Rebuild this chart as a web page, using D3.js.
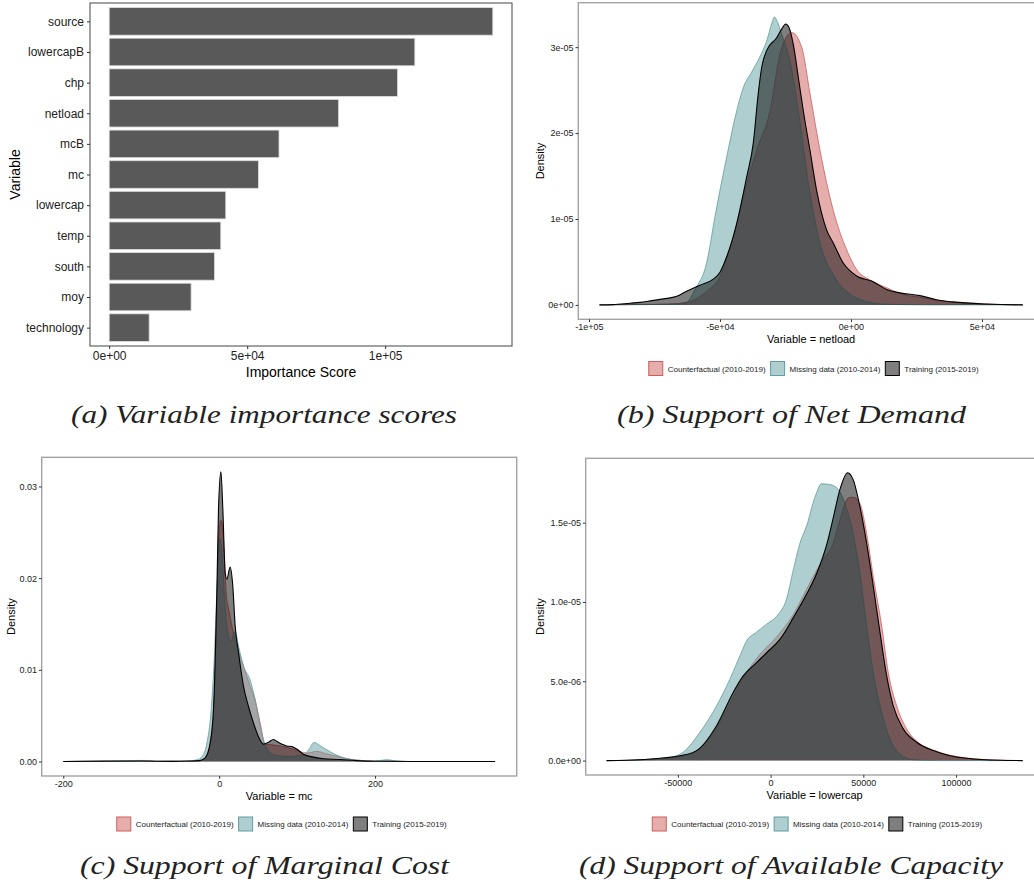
<!DOCTYPE html>
<html>
<head>
<meta charset="utf-8">
<script src="https://cdn.jsdelivr.net/npm/d3@7"></script>
<style>
  body { margin: 0; background: #fff; }
  svg { display: block; }
  text { font-family: "Liberation Sans", Arial, sans-serif; }
  text.caption { font-family: "Liberation Serif", "Times New Roman", Times, "DejaVu Serif", serif; font-style: italic; }
</style>
</head>
<body>
<svg id="fig" width="1034" height="890"></svg>
<script>
// ---------- (a) variable importance ----------
const impVariables = ["source", "lowercapB", "chp", "netload", "mcB", "mc",
                      "lowercap", "temp", "south", "moy", "technology"];
const impScores = [139000, 110750, 104500, 83130, 61530, 54070,
                   42240, 40430, 38140, 29680, 14480];
const impTicks = [0, 50000, 100000];
const impTickLabels = ["0e+00", "5e+04", "1e+05"];

// ---------- groups shared by the density panels ----------
const groupNames = ["Counterfactual (2010-2019)", "Missing data (2010-2014)", "Training (2015-2019)"];
const groupColors = ["#CD5C5C", "#5F9EA0", "#000000"];

// ---------- (b) netload densities: [value, density] ----------
const netloadCounterfactual = [
  [-96000, 0], [-80000, 0.005e-5], [-70000, 0.01e-5], [-62700, 0.03e-5], [-55000, 0.16e-5],
  [-50000, 0.33e-5], [-44900, 0.79e-5], [-41100, 1.26e-5], [-36000, 1.80e-5], [-30900, 2.26e-5],
  [-27100, 2.92e-5], [-25000, 3.10e-5], [-22630, 3.17e-5], [-18820, 3.00e-5], [-15650, 2.46e-5],
  [-11830, 1.80e-5], [-6760, 1.10e-5], [-1640, 0.64e-5], [2180, 0.41e-5], [7250, 0.29e-5],
  [13600, 0.20e-5], [20000, 0.12e-5], [26300, 0.09e-5], [32700, 0.05e-5], [39000, 0.03e-5],
  [51800, 0.01e-5], [65600, 0]
];
const netloadMissing = [
  [-96000, 0], [-75000, 0.005e-5], [-66000, 0.01e-5], [-62700, 0.03e-5], [-59540, 0.18e-5],
  [-55080, 0.49e-5], [-51900, 1.03e-5], [-47450, 1.72e-5], [-43600, 2.26e-5], [-41100, 2.53e-5],
  [-37900, 2.71e-5], [-34730, 2.89e-5], [-32200, 3.07e-5], [-30290, 3.27e-5], [-29270, 3.35e-5],
  [-27750, 3.27e-5], [-26460, 3.15e-5], [-23280, 2.84e-5], [-20100, 2.26e-5], [-15650, 1.30e-5],
  [-11830, 0.72e-5], [-6760, 0.35e-5], [880, 0.10e-5], [6000, 0.04e-5], [12000, 0.01e-5],
  [30000, 0], [65600, 0]
];
const netloadTraining = [
  [-96000, 0], [-90700, 0.003e-5], [-84300, 0.02e-5], [-80500, 0.03e-5], [-76000, 0.05e-5],
  [-71600, 0.07e-5], [-66500, 0.10e-5], [-62700, 0.16e-5], [-57600, 0.23e-5], [-52550, 0.30e-5],
  [-50000, 0.38e-5], [-47450, 0.56e-5], [-43600, 0.95e-5], [-39800, 1.49e-5], [-37300, 1.88e-5],
  [-35400, 2.46e-5], [-34100, 2.76e-5], [-32200, 2.96e-5], [-28370, 3.11e-5], [-26460, 3.21e-5],
  [-24940, 3.27e-5], [-23660, 3.23e-5], [-22000, 3.03e-5], [-20100, 2.65e-5], [-18200, 2.26e-5],
  [-15650, 1.80e-5], [-13100, 1.33e-5], [-9270, 0.87e-5], [-6760, 0.72e-5], [-3000, 0.49e-5],
  [2000, 0.34e-5], [8500, 0.27e-5], [13600, 0.18e-5], [18700, 0.14e-5], [26300, 0.108e-5],
  [32700, 0.06e-5], [39000, 0.035e-5], [51800, 0.01e-5], [65600, 0]
];
const netloadXTicks = [-100000, -50000, 0, 50000];
const netloadXLabels = ["-1e+05", "-5e+04", "0e+00", "5e+04"];
const netloadYTicks = [0, 1e-5, 2e-5, 3e-5];
const netloadYLabels = ["0e+00", "1e-05", "2e-05", "3e-05"];

// ---------- (c) marginal cost densities ----------
const mcCounterfactual = [
  [-200, 0], [-95, 0.0001], [-80, 0.00003], [-40, 0.00003], [-25, 0.0001], [-18, 0.0004],
  [-11.5, 0.0023], [-6.5, 0.007], [-3, 0.0166], [-0.9, 0.0239], [2.2, 0.0263], [5.5, 0.0243],
  [9, 0.0184], [13.2, 0.0162], [18.3, 0.014], [22.7, 0.0126], [31.2, 0.0104], [39.7, 0.0082],
  [46.2, 0.0067], [52.6, 0.0042], [59, 0.0019], [69.6, 0.0018], [82.4, 0.00164], [95, 0.00136],
  [112, 0.00092], [125, 0.0011], [138, 0.00084], [155, 0.00048], [172, 0.00019], [200, 0.00005],
  [215, 0.0001], [240, 0], [354, 0]
];
const mcMissing = [
  [-200, 0], [-95, 0.00012], [-80, 0.00003], [-40, 0.00005], [-28, 0.0002], [-22, 0.00055],
  [-15.8, 0.002], [-10.6, 0.0053], [-6.4, 0.0111], [-3, 0.0184], [0.4, 0.0243], [3.5, 0.0228],
  [7.7, 0.0166], [12, 0.0137], [15, 0.0131], [20.5, 0.0142], [24.8, 0.0126], [31.2, 0.0104],
  [39.7, 0.0089], [46.2, 0.0067], [52.6, 0.0038], [59, 0.0018], [69.6, 0.00073], [91, 0.00055],
  [108, 0.00073], [115, 0.0013], [121.8, 0.00208], [130, 0.0017], [138, 0.00128], [155, 0.00055],
  [172, 0.00019], [200, 0.00005], [215, 0.0002], [228, 0.00005], [240, 0], [354, 0]
];
const mcTraining = [
  [-200, 0], [-100, 0.00005], [-60, 0.00002], [-40, 0.00005], [-25, 0.0001], [-18, 0.0004],
  [-11.5, 0.002], [-7.3, 0.0057], [-5.1, 0.0111], [-3, 0.0184], [-0.9, 0.0275], [2.2, 0.0316],
  [4.7, 0.0275], [7.7, 0.0206], [9.8, 0.0199], [14.1, 0.0212], [17.5, 0.0191], [20.5, 0.0148],
  [24.8, 0.0119], [31.2, 0.0082], [37.6, 0.006], [44, 0.0042], [50.4, 0.0027], [56.8, 0.0019],
  [63.2, 0.0021], [69.6, 0.0024], [74, 0.0022], [80, 0.0019], [86.8, 0.0017], [93.2, 0.00164],
  [99.6, 0.00136], [108, 0.0008], [121, 0.00048], [134, 0.0003], [155, 0.00022], [176, 0.0001],
  [200, 0.00003], [250, 0], [354, 0]
];
const mcXTicks = [-200, 0, 200];
const mcXLabels = ["-200", "0", "200"];
const mcYTicks = [0, 0.01, 0.02, 0.03];
const mcYLabels = ["0.00", "0.01", "0.02", "0.03"];

// ---------- (d) available capacity densities ----------
const lowercapCounterfactual = [
  [-88460, 0], [-70000, 0.005e-5], [-59700, 0.012e-5], [-48900, 0.025e-5], [-39900, 0.06e-5],
  [-30960, 0.17e-5], [-21950, 0.36e-5], [-14780, 0.52e-5], [-5770, 0.67e-5], [3240, 0.78e-5],
  [12200, 0.92e-5], [19400, 1.08e-5], [24820, 1.20e-5], [28370, 1.27e-5], [33760, 1.37e-5],
  [37380, 1.52e-5], [41860, 1.655e-5], [44550, 1.66e-5], [48170, 1.62e-5], [51780, 1.43e-5],
  [55340, 1.16e-5], [59870, 0.85e-5], [63430, 0.555e-5], [67960, 0.345e-5], [73350, 0.20e-5],
  [80000, 0.11e-5], [88000, 0.065e-5], [97000, 0.033e-5], [106000, 0.016e-5], [124000, 0.003e-5],
  [135900, 0]
];
const lowercapMissing = [
  [-88460, 0], [-65100, 0.005e-5], [-56100, 0.015e-5], [-47140, 0.053e-5], [-38140, 0.178e-5],
  [-29130, 0.345e-5], [-21950, 0.513e-5], [-16560, 0.66e-5], [-12950, 0.754e-5], [-7550, 0.81e-5],
  [-2160, 0.86e-5], [3240, 0.91e-5], [8630, 1.02e-5], [12200, 1.20e-5], [15800, 1.37e-5],
  [19420, 1.48e-5], [23900, 1.66e-5], [27500, 1.745e-5], [32000, 1.74e-5], [36460, 1.71e-5],
  [40070, 1.62e-5], [44550, 1.43e-5], [48170, 1.18e-5], [51780, 0.85e-5], [55340, 0.555e-5],
  [59870, 0.304e-5], [64350, 0.136e-5], [69740, 0.042e-5], [76900, 0.005e-5], [90000, 0],
  [135900, 0]
];
const lowercapTraining = [
  [-88460, 0], [-77000, 0.002e-5], [-59700, 0.015e-5], [-48900, 0.031e-5], [-39900, 0.063e-5],
  [-29130, 0.22e-5], [-20170, 0.43e-5], [-14780, 0.534e-5], [-7550, 0.618e-5], [-2160, 0.68e-5],
  [5020, 0.764e-5], [12200, 0.90e-5], [19420, 1.05e-5], [24820, 1.18e-5], [30200, 1.36e-5],
  [33760, 1.53e-5], [37380, 1.71e-5], [41530, 1.815e-5], [44550, 1.77e-5], [48170, 1.60e-5],
  [51780, 1.37e-5], [55340, 1.10e-5], [58950, 0.81e-5], [62570, 0.534e-5], [66130, 0.345e-5],
  [71520, 0.20e-5], [78750, 0.116e-5], [87700, 0.063e-5], [96700, 0.031e-5], [105700, 0.015e-5],
  [123700, 0.002e-5], [135900, 0]
];
const lowercapXTicks = [-50000, 0, 50000, 100000];
const lowercapXLabels = ["-50000", "0", "50000", "100000"];
const lowercapYTicks = [0, 5e-6, 1e-5, 1.5e-5];
const lowercapYLabels = ["0.0e+00", "5.0e-06", "1.0e-05", "1.5e-05"];

// ---------- captions ----------
const captions = [
  { text: "(a) Variable importance scores", x0: 71, x1: 457, y: 423 },
  { text: "(b) Support of Net Demand", x0: 617, x1: 966, y: 423 },
  { text: "(c) Support of Marginal Cost", x0: 80, x1: 449, y: 874 },
  { text: "(d) Support of Available Capacity", x0: 579, x1: 1003, y: 874 }
];

const svg = d3.select("#fig");
svg.append("rect").attr("width", 1034).attr("height", 890).attr("fill", "#fff");

const TICK_COLOR = "#333";

function styleAxis(g, fontSize) {
  g.select(".domain").remove();
  g.selectAll(".tick line").attr("stroke", TICK_COLOR).attr("stroke-width", 1);
  g.selectAll(".tick text").attr("fill", "#222").attr("font-size", fontSize);
}

// ---------- panel (a): horizontal bar chart ----------
(function importancePanel() {
  const P = { left: 90, right: 512, top: 3, bottom: 346 };
  const maxV = d3.max(impScores);
  const x = d3.scaleLinear().domain([-0.05 * maxV, 1.05 * maxV]).range([P.left, P.right]);
  const y = d3.scalePoint().domain(impVariables).range([P.top, P.bottom]).padding(0.6);
  const bh = y.step() * 0.9;
  const g = svg.append("g");

  g.selectAll("rect.bar").data(impVariables).join("rect")
    .attr("class", "bar")
    .attr("x", x(0))
    .attr("y", d => y(d) - bh / 2)
    .attr("width", (d, i) => x(impScores[i]) - x(0))
    .attr("height", bh)
    .attr("fill", "#595959")
    .attr("stroke", "#dcdcdc")
    .attr("stroke-width", 0.8);

  g.append("rect")
    .attr("x", P.left).attr("y", P.top)
    .attr("width", P.right - P.left).attr("height", P.bottom - P.top)
    .attr("fill", "none").attr("stroke", "#555").attr("stroke-width", 1.1);

  const ax = g.append("g").attr("transform", `translate(0,${P.bottom})`)
    .call(d3.axisBottom(x).tickValues(impTicks).tickFormat((d, i) => impTickLabels[i])
      .tickSize(3).tickPadding(2.5));
  styleAxis(ax, 12);

  const ay = g.append("g").attr("transform", `translate(${P.left},0)`)
    .call(d3.axisLeft(y).tickSize(3).tickPadding(3));
  styleAxis(ay, 12);

  g.append("text").attr("x", (P.left + P.right) / 2).attr("y", 377)
    .attr("text-anchor", "middle").attr("font-size", 14).attr("fill", "#000")
    .text("Importance Score");
  g.append("text").attr("transform", `translate(20,${(P.top + P.bottom) / 2}) rotate(-90)`)
    .attr("text-anchor", "middle").attr("font-size", 14).attr("fill", "#000")
    .text("Variable");
})();

// ---------- density panels ----------
let clipId = 0;
function densityPanel(cfg) {
  const g = svg.append("g");
  const allPts = cfg.series.flat();
  const xExt = d3.extent(allPts, d => d[0]);
  const xPad = (xExt[1] - xExt[0]) * 0.05;
  const yMax = d3.max(allPts, d => d[1]);
  const x = d3.scaleLinear().domain([xExt[0] - xPad, xExt[1] + xPad]).range([cfg.left, cfg.right]);
  const y = d3.scaleLinear().domain([-0.05 * yMax, 1.05 * yMax]).range([cfg.bottom, cfg.top]);

  const id = "clip" + (clipId++);
  g.append("clipPath").attr("id", id).append("rect")
    .attr("x", cfg.left).attr("y", cfg.top)
    .attr("width", cfg.right - cfg.left).attr("height", cfg.bottom - cfg.top);
  const plot = g.append("g").attr("clip-path", `url(#${id})`);

  const area = d3.area().x(d => x(d[0])).y0(y(0)).y1(d => y(d[1])).curve(d3.curveMonotoneX);
  const line = d3.line().x(d => x(d[0])).y(d => y(d[1])).curve(d3.curveMonotoneX);

  cfg.series.forEach((vals, i) => {
    plot.append("path").attr("d", area(vals))
      .attr("fill", groupColors[i]).attr("fill-opacity", 0.5);
    plot.append("path").attr("d", line(vals))
      .attr("fill", "none").attr("stroke", groupColors[i])
      .attr("stroke-width", i === 2 ? 1.1 : 0.8).attr("stroke-linejoin", "round");
  });

  g.append("rect")
    .attr("x", cfg.left).attr("y", cfg.top)
    .attr("width", cfg.right - cfg.left).attr("height", cfg.bottom - cfg.top)
    .attr("fill", "none").attr("stroke", "#a3a3a3").attr("stroke-width", 1.4);

  const ax = g.append("g").attr("transform", `translate(0,${cfg.bottom})`)
    .call(d3.axisBottom(x).tickValues(cfg.xTicks).tickFormat((d, i) => cfg.xLabels[i])
      .tickSize(2.75).tickPadding(2));
  styleAxis(ax, 9);
  const ay = g.append("g").attr("transform", `translate(${cfg.left},0)`)
    .call(d3.axisLeft(y).tickValues(cfg.yTicks).tickFormat((d, i) => cfg.yLabels[i])
      .tickSize(2.75).tickPadding(2));
  styleAxis(ay, 9);

  const midX = (cfg.left + cfg.right) / 2;
  g.append("text").attr("x", midX).attr("y", cfg.bottom + 24)
    .attr("text-anchor", "middle").attr("font-size", 11).attr("fill", "#000")
    .text(cfg.xTitle);
  g.append("text").attr("transform", `translate(${cfg.densityX},${(cfg.top + cfg.bottom) / 2}) rotate(-90)`)
    .attr("text-anchor", "middle").attr("font-size", 11).attr("fill", "#000")
    .text("Density");

  // legend row
  const leg = g.append("g");
  const key = 15, gapIn = 4.5, gapOut = 4.5;
  let cur = 0;
  groupNames.forEach((name, i) => {
    leg.append("rect").attr("x", cur + 0.5).attr("y", -key / 2 + 0.5)
      .attr("width", key - 1).attr("height", key - 1)
      .attr("fill", groupColors[i]).attr("fill-opacity", 0.5)
      .attr("stroke", groupColors[i]).attr("stroke-width", 1);
    const t = leg.append("text").attr("x", cur + key + gapIn).attr("y", 3)
      .attr("font-size", 8).attr("fill", "#222").text(name);
    cur += key + gapIn + t.node().getComputedTextLength() + gapOut;
  });
  const legW = cur - gapOut;
  leg.attr("transform", `translate(${cfg.legendCenter - legW / 2},${cfg.legendY})`);
}

densityPanel({
  left: 578.3, right: 1044, top: 2.7, bottom: 319.3,
  series: [netloadCounterfactual, netloadMissing, netloadTraining],
  xTicks: netloadXTicks, xLabels: netloadXLabels,
  yTicks: netloadYTicks, yLabels: netloadYLabels,
  xTitle: "Variable = netload", densityX: 544,
  legendCenter: 813.5, legendY: 368.5
});

densityPanel({
  left: 41.7, right: 516.7, top: 457.3, bottom: 776,
  series: [mcCounterfactual, mcMissing, mcTraining],
  xTicks: mcXTicks, xLabels: mcXLabels,
  yTicks: mcYTicks, yLabels: mcYLabels,
  xTitle: "Variable = mc", densityX: 15,
  legendCenter: 281.5, legendY: 824
});

densityPanel({
  left: 585.7, right: 1043.5, top: 458.3, bottom: 775,
  series: [lowercapCounterfactual, lowercapMissing, lowercapTraining],
  xTicks: lowercapXTicks, xLabels: lowercapXLabels,
  yTicks: lowercapYTicks, yLabels: lowercapYLabels,
  xTitle: "Variable = lowercap", densityX: 544,
  legendCenter: 817, legendY: 824
});

// ---------- sub-figure captions ----------
captions.forEach(c => {
  svg.append("text")
    .attr("class", "caption")
    .attr("x", c.x0).attr("y", c.y)
    .attr("font-size", 25)
    .attr("fill", "#222")
    .attr("textLength", c.x1 - c.x0)
    .attr("lengthAdjust", "spacingAndGlyphs")
    .text(c.text);
});
</script>
</body>
</html>
